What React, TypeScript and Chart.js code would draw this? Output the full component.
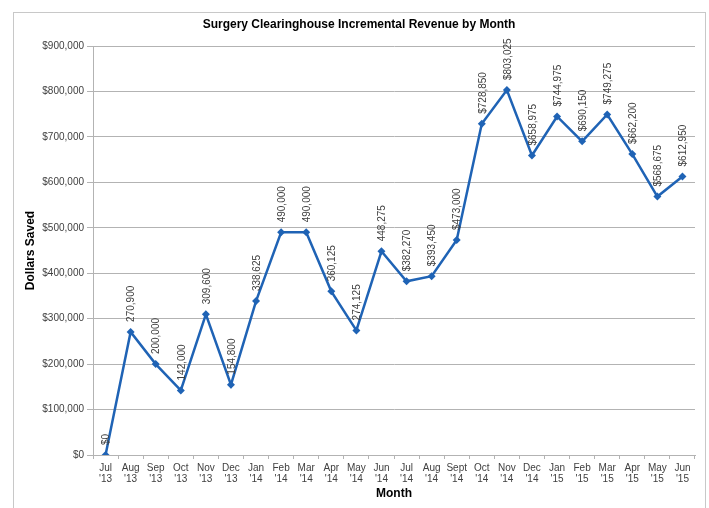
import React, { useEffect, useRef } from "react";
import { Chart, registerables } from "chart.js";

Chart.register(...registerables);

const TITLE = "Surgery Clearinghouse Incremental Revenue by Month";
const Y_TITLE = "Dollars Saved";
const X_TITLE = "Month";

const MONTHS = [
  "Jul", "Aug", "Sep", "Oct", "Nov", "Dec", "Jan", "Feb", "Mar", "Apr", "May", "Jun",
  "Jul", "Aug", "Sept", "Oct", "Nov", "Dec", "Jan", "Feb", "Mar", "Apr", "May", "Jun",
];
const YEARS = [
  "'13", "'13", "'13", "'13", "'13", "'13", "'14", "'14", "'14", "'14", "'14", "'14",
  "'14", "'14", "'14", "'14", "'14", "'14", "'15", "'15", "'15", "'15", "'15", "'15",
];
const REVENUE = [
  0, 270900, 200000, 142000, 309600, 154800, 338625, 490000, 490000, 360125, 274125, 448275,
  382270, 393450, 473000, 728850, 803025, 658975, 744975, 690150, 749275, 662200, 568675, 612950,
];
// whether the point label shows a dollar sign
const LABEL_DOLLAR = [
  true, false, false, false, false, false, false, false, false, false, false, false,
  true, true, true, true, true, true, true, true, true, true, true, true,
];

const Y_MIN = 0;
const Y_MAX = 900000;
const Y_STEP = 100000;

const FONT = "'Liberation Sans', Arial, sans-serif";
const TEXT = "#404040";
const GRID = "#b3b3b3";
const BLUE = "#1f63b5";

const fmt = (v: number) => v.toLocaleString("en-US");

export default function App() {
  const ref = useRef<HTMLCanvasElement | null>(null);

  useEffect(() => {
    if (!ref.current) return;

    const framePlugin = {
      id: "frame",
      beforeDraw(chart: any) {
        const ctx = chart.ctx;
        ctx.save();
        ctx.fillStyle = "#ffffff";
        ctx.fillRect(0, 0, chart.width, chart.height);
        ctx.strokeStyle = "#c8c8c8";
        ctx.lineWidth = 1;
        ctx.strokeRect(13.5, 12.5, 692, 600);
        ctx.fillStyle = "#000000";
        ctx.font = `bold 12px ${FONT}`;
        ctx.textAlign = "center";
        ctx.textBaseline = "middle";
        ctx.fillText(TITLE, 359, 25);
        ctx.restore();
      },
    };

    const labelPlugin = {
      id: "pointLabels",
      afterDatasetsDraw(chart: any) {
        const ctx = chart.ctx;
        const meta = chart.getDatasetMeta(0);
        ctx.save();
        ctx.font = `10px ${FONT}`;
        ctx.fillStyle = TEXT;
        ctx.textAlign = "left";
        ctx.textBaseline = "middle";
        meta.data.forEach((pt: any, i: number) => {
          const txt = (LABEL_DOLLAR[i] ? "$" : "") + fmt(REVENUE[i]);
          ctx.save();
          ctx.translate(pt.x + 1, pt.y - 10);
          ctx.rotate(-Math.PI / 2);
          ctx.fillText(txt, 0, 0);
          ctx.restore();
        });
        ctx.restore();
      },
    };

    const chart = new Chart(ref.current, {
      type: "line",
      data: {
        labels: MONTHS.map((m, i) => [m, YEARS[i]]),
        datasets: [
          {
            data: REVENUE,
            borderColor: BLUE,
            backgroundColor: BLUE,
            borderWidth: 2.5,
            pointStyle: "rectRot",
            pointRadius: 4,
            pointBorderWidth: 0,
            pointBackgroundColor: BLUE,
            tension: 0,
          },
        ],
      },
      options: {
        responsive: false,
        animation: false,
        layout: { padding: { top: 46, right: 14, left: 0, bottom: 0 } },
        plugins: {
          legend: { display: false },
          title: { display: false },
          tooltip: { enabled: false },
        },
        scales: {
          x: {
            type: "category",
            offset: true,
            afterFit: (s: any) => {
              s.height = 53;
            },
            grid: {
              offset: true,
              drawOnChartArea: false,
              drawTicks: true,
              tickLength: 4,
              color: GRID,
            },
            border: { display: true, color: GRID, width: 1 },
            ticks: {
              autoSkip: false,
              maxRotation: 0,
              minRotation: 0,
              padding: 3,
              color: TEXT,
              font: { family: FONT, size: 10, lineHeight: 1.15 },
            },
            title: {
              display: true,
              text: X_TITLE,
              color: "#000000",
              font: { family: FONT, size: 12, weight: "bold" },
              padding: { top: 0, bottom: 7 },
            },
          },
          y: {
            min: Y_MIN,
            max: Y_MAX,
            afterFit: (s: any) => {
              s.width = 93;
            },
            grid: {
              color: GRID,
              tickLength: 6,
              lineWidth: 1,
            },
            border: { display: true, color: GRID, width: 1 },
            ticks: {
              stepSize: Y_STEP,
              padding: 3,
              color: TEXT,
              font: { family: FONT, size: 10 },
              callback: (v: any) => "$" + fmt(Number(v)),
            },
            title: {
              display: true,
              text: Y_TITLE,
              color: "#000000",
              font: { family: FONT, size: 12, weight: "bold" },
              padding: { top: 23, bottom: 0 },
            },
          },
        },
      },
      plugins: [framePlugin, labelPlugin],
    } as any);

    return () => chart.destroy();
  }, []);

  return (
    <div style={{ position: "absolute", left: 0, top: 0, width: 709, height: 508 }}>
      <canvas ref={ref} width={709} height={508} style={{ width: 709, height: 508, display: "block" }} />
    </div>
  );
}
